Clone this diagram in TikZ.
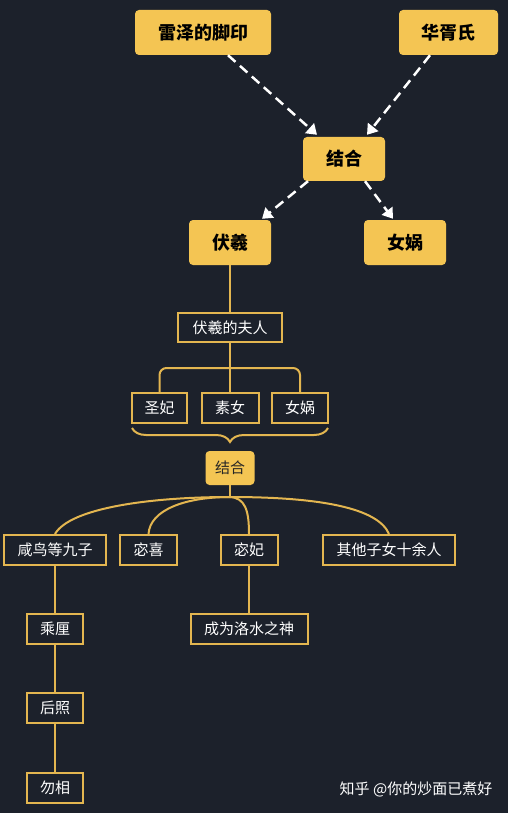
\documentclass[tikz,border=0pt]{standalone}
\usepackage{fontspec}
\setmainfont{Noto Sans CJK SC}
\usetikzlibrary{arrows.meta,decorations.pathreplacing,calc}
\definecolor{bg}{HTML}{1C212B}
\definecolor{gold}{HTML}{F4C553}
\definecolor{goldline}{HTML}{E3B650}
\begin{document}
\begin{tikzpicture}[x=1pt,y=-1pt,
 topbox/.style={draw=none, fill=gold, rounded corners=4pt, inner sep=0pt, font=\fontsize{18}{21}\selectfont\bfseries, text=black},
 outbox/.style={draw=goldline, line width=2pt, fill=bg, inner sep=0pt, text=white, minimum height=30pt, font=\fontsize{15}{18}\selectfont},
 midbox/.style={draw=none, fill=gold, rounded corners=4pt, inner sep=0pt, text=black!85, font=\fontsize{15}{18}\selectfont},
 link/.style={draw=goldline, line width=2pt},
 darr/.style={draw=white, line width=2.5pt, dash pattern=on 10pt off 6pt, -{Triangle[width=13pt,length=10pt,fill=white]}}]
\fill[bg] (0,0) rectangle (508,813);
\useasboundingbox (0,0) rectangle (508,813);
% top nodes
\node[topbox, minimum width=136pt, minimum height=45pt] (lz) at (203,32.5) {雷泽的脚印};
\node[topbox, minimum width=99pt, minimum height=45pt] (hx) at (448.5,32.5) {华胥氏};
\node[topbox, minimum width=82pt, minimum height=44pt] (jh1) at (344,159) {结合};
\node[topbox, minimum width=82pt, minimum height=45pt] (fx) at (230,242.5) {伏羲};
\node[topbox, minimum width=82pt, minimum height=45pt] (nw1) at (405,242.5) {女娲};
% dashed arrows
\draw[darr] ([xshift=25pt]lz.south) -- ([xshift=-27pt,yshift=2pt]jh1.north);
\draw[darr] ([xshift=-18.5pt]hx.south) -- ([xshift=23pt,yshift=2pt]jh1.north);
\draw[darr] ([xshift=-36pt]jh1.south) -- ([xshift=32pt,yshift=1pt]fx.north);
\draw[darr] ([xshift=21pt]jh1.south) -- ([xshift=-12pt,yshift=1pt]nw1.north);
% lower nodes
\node[outbox, minimum width=104pt, minimum height=29pt] (fr) at (230,327.5) {伏羲的夫人};
\node[outbox, minimum width=55pt] (sf) at (159.5,408) {圣妃};
\node[outbox, minimum width=57pt] (sn) at (230,408) {素女};
\node[outbox, minimum width=56pt] (nw2) at (300,408) {女娲};
\node[midbox, minimum width=49pt, minimum height=34pt] (jh2) at (230,468) {结合};
\node[outbox, minimum width=102pt] (xn) at (55,550) {咸鸟等九子};
\node[outbox, minimum width=57pt] (mx) at (148.5,550) {宓喜};
\node[outbox, minimum width=57pt] (mf) at (249,550) {宓妃};
\node[outbox, minimum width=132pt] (qt) at (389,550) {其他子女十余人};
\node[outbox, minimum width=56pt] (cl) at (55,629) {乘厘};
\node[outbox, minimum width=117pt] (lo) at (249,629) {成为洛水之神};
\node[outbox, minimum width=56pt] (hz) at (55,708) {后照};
\node[outbox, minimum width=56pt] (wx) at (55,787.5) {勿相};
\node[text=white, font=\fontsize{15}{18}\selectfont, inner sep=0pt] (wm) at (416,789) {知乎 @你的炒面已煮好};
% connectors
\coordinate (b1) at (230,368);
\coordinate (brL) at (132,428);
\coordinate (brR) at (328,428);
\coordinate (hub) at (230,497);
\draw[link] (fx.south) -- (fr.north);
\draw[link] (fr.south) -- (b1);
\draw[link, rounded corners=7pt] (b1) -| (sf.north);
\draw[link, rounded corners=7pt] (b1) -| (nw2.north);
\draw[link] (b1) -- (sn.north);
\draw[link, decorate, decoration={brace, amplitude=14pt}] (brR) -- (brL);
\draw[link] (jh2.south) -- (hub);
\draw[link] (hub) .. controls (150,497) and (70,508) .. (xn.north);
\draw[link] (hub) .. controls (185,497) and (150,510) .. (mx.north);
\draw[link] (hub) .. controls (245,498) and (249,510) .. (mf.north);
\draw[link] (hub) .. controls (320,497) and (378,508) .. (qt.north);
\draw[link] (xn.south) -- (cl.north);
\draw[link] (cl.south) -- (hz.north);
\draw[link] (hz.south) -- (wx.north);
\draw[link] (mf.south) -- (lo.north);
\end{tikzpicture}
\end{document}
